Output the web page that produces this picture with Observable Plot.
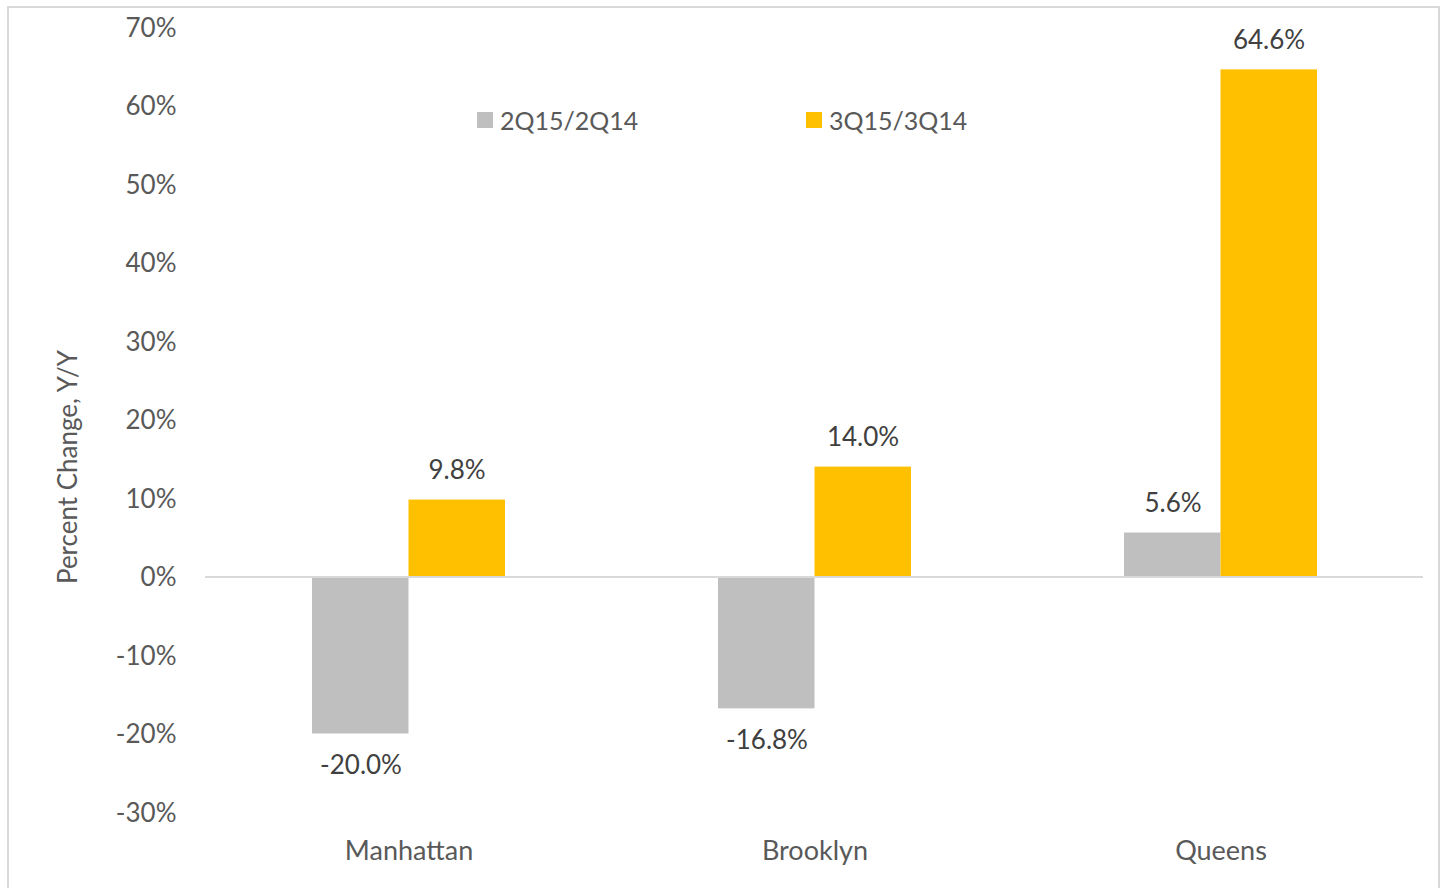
<!DOCTYPE html>
<html>
<head>
<meta charset="utf-8">
<script src="https://cdn.jsdelivr.net/npm/d3@7"></script>
<script src="https://cdn.jsdelivr.net/npm/@observablehq/plot@0.6"></script>
<style>
  html, body { margin: 0; padding: 0; background: #fff; }
  #wrap { position: relative; width: 1450px; height: 888px; overflow: hidden; font-family: Lato, "Open Sans", sans-serif; }
  #border { position: absolute; left: 7px; top: 6px; width: 1433px; height: 900px; border: 2px solid #d9d9d9; box-sizing: border-box; }
  #chart { position: absolute; left: 0; top: 0; }
  .legend { position: absolute; top: 105px; display: flex; align-items: center; font-size: 25px; color: #595959; }
  .legend .sw { width: 16px; height: 16px; margin-right: 7px; }
  #ytitle { position: absolute; left: 67px; top: 467px; transform: translate(-50%, -50%) rotate(-90deg); white-space: nowrap; font-size: 26px; color: #595959; }
</style>
</head>
<body>
<div id="wrap">
  <div id="border"></div>
  <div id="chart"></div>
  <div id="ytitle">Percent Change, Y/Y</div>
  <div class="legend" style="left:477px"><div class="sw" style="background:#bfbfbf"></div><span id="lg0"></span></div>
  <div class="legend" style="left:806px"><div class="sw" style="background:#ffc000"></div><span id="lg1"></span></div>
</div>
<script>
const categories = ["Manhattan", "Brooklyn", "Queens"];
const seriesNames = ["2Q15/2Q14", "3Q15/3Q14"];
const values2Q = [-20.0, -16.8, 5.6];
const values3Q = [9.8, 14.0, 64.6];
const yTicks = [-30, -20, -10, 0, 10, 20, 30, 40, 50, 60, 70];
const colors = ["#bfbfbf", "#ffc000"];

document.getElementById("lg0").textContent = seriesNames[0];
document.getElementById("lg1").textContent = seriesNames[1];

const d0 = categories.map((c, i) => ({cat: c, v: values2Q[i]}));
const d1 = categories.map((c, i) => ({cat: c, v: values3Q[i]}));
const fmt = d => d.v.toFixed(1) + "%";
const half = 96.5;
const labelOff = 48;

const chart = Plot.plot({
  width: 1450,
  height: 888,
  marginTop: 27,
  marginBottom: 76,
  marginLeft: 205,
  marginRight: 27,
  style: {fontFamily: "Lato, 'Open Sans', sans-serif", fontSize: "26px", color: "#595959", background: "transparent"},
  x: {domain: categories, type: "band", paddingInner: 0.525, paddingOuter: 0.2625, label: null},
  y: {domain: [-30, 70], label: null},
  marks: [
    Plot.barY(d0, {x: "cat", y: "v", fill: colors[0], insetRight: half}),
    Plot.barY(d1, {x: "cat", y: "v", fill: colors[1], insetLeft: half}),
    Plot.ruleY([0], {stroke: "#d9d9d9", strokeWidth: 2}),
    Plot.axisY({ticks: yTicks, tickSize: 0, tickPadding: 29, tickFormat: d => `${d}%`, label: null, fontSize: 26, fill: "#595959", dy: 1}),
    Plot.axisX({tickSize: 0, tickPadding: 28, label: null, fontSize: 27, fill: "#595959"}),
    Plot.text(d0.filter(d => d.v >= 0), {x: "cat", y: "v", text: fmt, dx: -labelOff, dy: -29, fontSize: 26, fill: "#404040"}),
    Plot.text(d0.filter(d => d.v < 0), {x: "cat", y: "v", text: fmt, dx: -labelOff, dy: 32, fontSize: 26, fill: "#404040"}),
    Plot.text(d1.filter(d => d.v >= 0), {x: "cat", y: "v", text: fmt, dx: labelOff, dy: -29, fontSize: 26, fill: "#404040"}),
    Plot.text(d1.filter(d => d.v < 0), {x: "cat", y: "v", text: fmt, dx: labelOff, dy: 32, fontSize: 26, fill: "#404040"})
  ]
});
document.getElementById("chart").appendChild(chart);
</script>
</body>
</html>
